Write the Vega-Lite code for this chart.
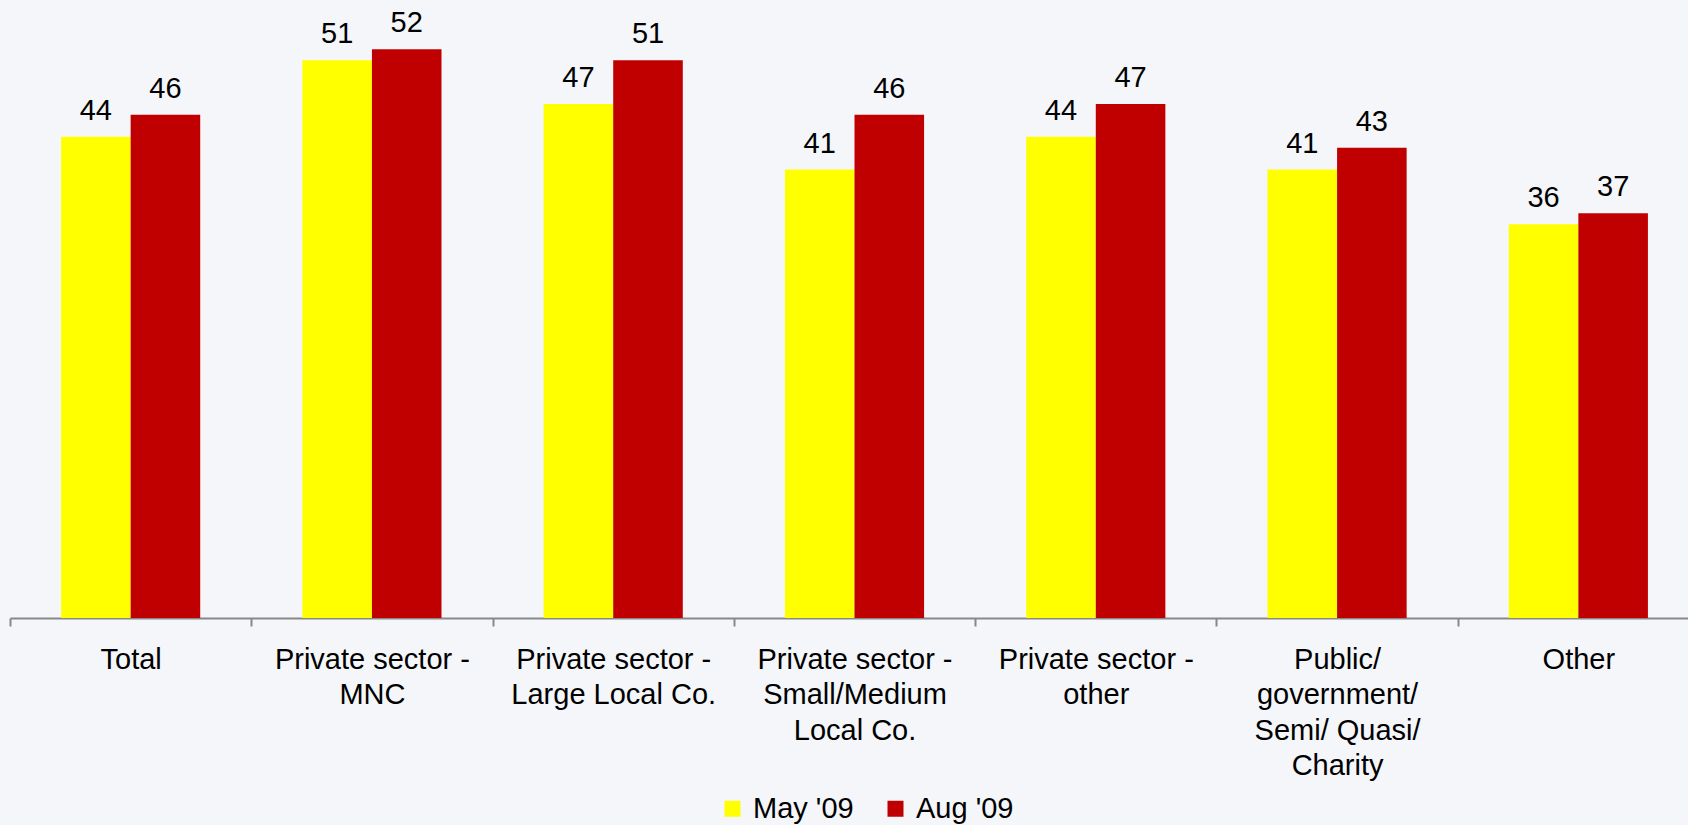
{
  "$schema": "https://vega.github.io/schema/vega-lite/v6.json",
  "width": 1678,
  "height": 618,
  "autosize": "none",
  "padding": {"left": 10, "top": 0, "right": 0, "bottom": 207},
  "background": "#f4f6fa",
  "config": {
    "view": {"stroke": null},
    "font": "Liberation Sans"
  },
  "data": {
    "values": [
      {"category": "Total", "wave": "May '09", "value": 44},
      {"category": "Total", "wave": "Aug '09", "value": 46},
      {"category": "Private sector -\nMNC", "wave": "May '09", "value": 51},
      {"category": "Private sector -\nMNC", "wave": "Aug '09", "value": 52},
      {"category": "Private sector -\nLarge Local Co.", "wave": "May '09", "value": 47},
      {"category": "Private sector -\nLarge Local Co.", "wave": "Aug '09", "value": 51},
      {"category": "Private sector -\nSmall/Medium\nLocal Co.", "wave": "May '09", "value": 41},
      {"category": "Private sector -\nSmall/Medium\nLocal Co.", "wave": "Aug '09", "value": 46},
      {"category": "Private sector -\nother", "wave": "May '09", "value": 44},
      {"category": "Private sector -\nother", "wave": "Aug '09", "value": 47},
      {"category": "Public/\ngovernment/\nSemi/ Quasi/\nCharity", "wave": "May '09", "value": 41},
      {"category": "Public/\ngovernment/\nSemi/ Quasi/\nCharity", "wave": "Aug '09", "value": 43},
      {"category": "Other", "wave": "May '09", "value": 36},
      {"category": "Other", "wave": "Aug '09", "value": 37}
    ]
  },
  "encoding": {
    "x": {
      "field": "category",
      "type": "nominal",
      "sort": null,
      "scale": {"paddingInner": 0, "paddingOuter": 0, "range": [0, 1689]},
      "axis": {
        "title": null,
        "labelAngle": 0,
        "labelExpr": "split(datum.label, '\\n')",
        "labelFontSize": 29,
        "labelColor": "#000000",
        "labelLineHeight": 35.5,
        "labelPadding": 19,
        "labelBaseline": "top",
        "labelLimit": 0,
        "tickBand": "extent",
        "tickSize": 8,
        "tickWidth": 2,
        "tickColor": "#888888",
        "domainColor": "#888888",
        "domainWidth": 2
      }
    },
    "xOffset": {
      "field": "wave",
      "type": "nominal",
      "sort": ["May '09", "Aug '09"],
      "scale": {"paddingInner": 0, "paddingOuter": 0.734}
    },
    "y": {
      "field": "value",
      "type": "quantitative",
      "scale": {"domain": [0, 56.5], "nice": false, "zero": true},
      "axis": null
    }
  },
  "layer": [
    {
      "mark": {"type": "bar"},
      "encoding": {
        "color": {
          "field": "wave",
          "type": "nominal",
          "sort": ["May '09", "Aug '09"],
          "scale": {"domain": ["May '09", "Aug '09"], "range": ["#FFFF00", "#C00000"]},
          "legend": {
            "title": null,
            "orient": "none",
            "legendX": 708,
            "legendY": 794,
            "padding": 0,
            "direction": "horizontal",
            "symbolType": "square",
            "symbolSize": 256,
            "symbolStrokeWidth": 0,
            "symbolOpacity": 1,
            "labelFontSize": 29,
            "labelColor": "#000000",
            "labelOffset": 6,
            "labelLimit": 0,
            "columnPadding": 27
          }
        }
      }
    },
    {
      "mark": {"type": "text", "baseline": "alphabetic", "dy": -17, "fontSize": 29, "color": "#000000"},
      "encoding": {
        "text": {"field": "value", "type": "quantitative"}
      }
    }
  ]
}
